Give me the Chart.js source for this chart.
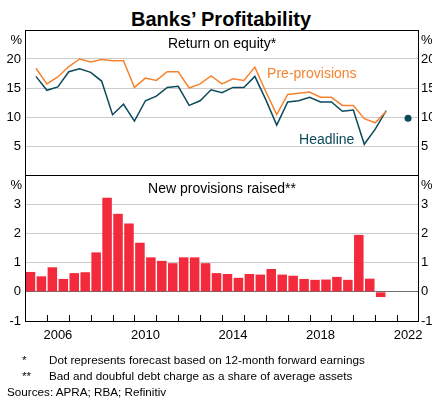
<!DOCTYPE html>
<html>
<head>
<meta charset="utf-8">
<script src="https://cdn.jsdelivr.net/npm/chart.js@4.4.1/dist/chart.umd.min.js"></script>
<style>
  body { margin: 0; background: #fff; }
  #wrap { position: relative; width: 432px; height: 399px; overflow: hidden;
          font-family: "Liberation Sans", Arial, sans-serif; color: #000; }
  canvas { position: absolute; left: 0; top: 0; }
  .title { position: absolute; left: 5px; width: 432px; top: 8.5px; text-align: center;
           font-weight: bold; font-size: 20px; line-height: 20px; }
  .note { position: absolute; font-size: 11.7px; line-height: 11.7px; white-space: nowrap; }
</style>
</head>
<body>
<div id="wrap">
  <div class="title">Banks’ Profitability</div>
  <canvas id="roe" width="432" height="399"></canvas>
  <canvas id="prov" width="432" height="399"></canvas>
  <div class="note" style="left:22px;top:354px">*</div>
  <div class="note" style="left:49px;top:354px">Dot represents forecast based on 12-month forward earnings</div>
  <div class="note" style="left:22px;top:370px">**</div>
  <div class="note" style="left:49px;top:370px">Bad and doubful debt charge as a share of average assets</div>
  <div class="note" style="left:7px;top:386px">Sources: APRA; RBA; Refinitiv</div>
</div>
<script>
// half-year periods
const periods = [
  '2005 H1','2005 H2','2006 H1','2006 H2','2007 H1','2007 H2','2008 H1','2008 H2',
  '2009 H1','2009 H2','2010 H1','2010 H2','2011 H1','2011 H2','2012 H1','2012 H2',
  '2013 H1','2013 H2','2014 H1','2014 H2','2015 H1','2015 H2','2016 H1','2016 H2',
  '2017 H1','2017 H2','2018 H1','2018 H2','2019 H1','2019 H2','2020 H1','2020 H2',
  '2021 H1'
];

// return on equity, per cent
const headline = [
  17.0, 14.6, 15.2, 17.8, 18.3, 17.7, 16.2, 10.4, 12.2, 9.3, 12.8, 13.6,
  15.1, 15.3, 12.0, 12.8, 14.7, 14.2, 15.1, 15.1, 17.0, 13.0, 8.6, 12.6,
  12.8, 13.4, 12.6, 12.6, 11.0, 11.2, 5.3, 7.9, 11.1
];
const preProvisions = [
  18.4, 15.7, 16.9, 18.7, 20.0, 19.5, 19.9, 19.7, 19.7, 15.1, 16.7, 16.3,
  17.8, 17.8, 15.0, 15.7, 17.1, 15.7, 16.6, 16.3, 18.6, 14.4, 10.4, 13.9,
  14.1, 14.3, 13.4, 13.4, 12.0, 12.0, 9.7, 9.0, 11.0
];
const forecastPeriod = '2022 H1';
const forecastRoe = 9.8;

// new provisions raised, per cent of average assets
const provisions = [
  0.68, 0.53, 0.84, 0.44, 0.64, 0.67, 1.35, 3.22, 2.67, 2.34, 1.68, 1.18,
  1.06, 0.98, 1.18, 1.18, 0.98, 0.64, 0.61, 0.48, 0.61, 0.59, 0.78, 0.59,
  0.55, 0.44, 0.41, 0.42, 0.51, 0.41, 1.95, 0.45, -0.18
];

const yearTicks = [2006, 2010, 2014, 2018, 2022];

const ORANGE = '#F7832F';
const TEAL = '#0B4A5A';
const RED = '#F32A3B';
const GRID = '#CBCBCB';
const FONT = '"Liberation Sans", Arial, sans-serif';

Chart.defaults.font.family = FONT;
Chart.defaults.color = '#000';

function periodStart(p) {
  const [yr, h] = p.split(' ');
  return Number(yr) + (h === 'H2' ? 0.5 : 0);
}
// lines are plotted at period end, bars across the period
const endOf = p => periodStart(p) + 0.5;
const midOf = p => periodStart(p) + 0.25;

function xScale(show) {
  const s = {
    type: 'linear', min: 2005, max: 2023, offset: false, display: show,
    grid: { display: false, drawTicks: false },
    border: { display: false },
    ticks: {
      stepSize: 1, autoSkip: false, maxRotation: 0, padding: 7, labelOffset: 11,
      font: { size: 13 },
      callback: v => yearTicks.includes(v) ? String(v) : ''
    }
  };
  if (show) s.afterFit = sc => { sc.height = 24; };
  return s;
}

function yScale(pos, min, max, step, gridColor) {
  return {
    type: 'linear', position: pos, min: min, max: max,
    afterFit: s => { s.width = pos === 'left' ? 25 : 13; },
    border: { display: false },
    grid: { display: pos === 'left', drawTicks: false, lineWidth: 1, color: gridColor },
    ticks: {
      stepSize: step, padding: pos === 'left' ? 4 : 2, font: { size: 13 },
      callback: v => (v === max || (min === 0 && v === 0)) ? '' : String(v)
    }
  };
}

function drawFrame(chart) {
  const { ctx, chartArea: a } = chart;
  ctx.save();
  ctx.strokeStyle = '#000';
  ctx.lineWidth = 1;
  ctx.strokeRect(Math.round(a.left) + 0.5, Math.round(a.top) + 0.5,
                 Math.round(a.right - a.left) - 1, Math.round(a.bottom - a.top));
  ctx.restore();
}

function drawPanelText(chart, title) {
  const { ctx, chartArea: a } = chart;
  ctx.save();
  ctx.fillStyle = '#000';
  ctx.textBaseline = 'alphabetic';
  ctx.font = '14px ' + FONT;
  ctx.textAlign = 'center';
  ctx.fillText(title, (a.left + a.right) / 2, a.top + 18.3);
  ctx.font = '13px ' + FONT;
  ctx.textAlign = 'right';
  ctx.fillText('%', a.left - 3, a.top + 13.5);
  ctx.textAlign = 'left';
  ctx.fillText('%', a.right + 2, a.top + 13.5);
  ctx.restore();
}

const roeDecor = {
  id: 'roeDecor',
  afterDatasetsDraw(chart) {
    const { ctx, scales: { x, y } } = chart;
    drawFrame(chart);
    drawPanelText(chart, 'Return on equity*');
    ctx.save();
    ctx.font = '14px ' + FONT;
    ctx.textBaseline = 'alphabetic';
    ctx.textAlign = 'left';
    ctx.fillStyle = ORANGE;
    ctx.fillText('Pre-provisions', x.getPixelForValue(2016.06), y.getPixelForValue(16.67));
    ctx.fillStyle = TEAL;
    ctx.fillText('Headline', x.getPixelForValue(2017.52), y.getPixelForValue(5.36));
    ctx.restore();
  }
};

const provDecor = {
  id: 'provDecor',
  afterDatasetsDraw(chart) {
    const { ctx, chartArea: a, scales: { x } } = chart;
    drawFrame(chart);
    drawPanelText(chart, 'New provisions raised**');
    // year tick marks along the bottom, inside the frame
    ctx.save();
    ctx.strokeStyle = '#000';
    ctx.lineWidth = 1;
    ctx.beginPath();
    x.ticks.forEach(t => {
      if (t.value <= x.min || t.value >= x.max) return;
      const px = Math.round(x.getPixelForValue(t.value)) + 0.5;
      ctx.moveTo(px, a.bottom);
      ctx.lineTo(px, a.bottom - 6);
    });
    ctx.stroke();
    ctx.restore();
  }
};

new Chart(document.getElementById('roe'), {
  type: 'line',
  data: {
    datasets: [
      {
        label: 'Pre-provisions',
        data: periods.map((p, i) => ({ x: endOf(p), y: preProvisions[i] })),
        borderColor: ORANGE, borderWidth: 1.5, pointRadius: 0, tension: 0
      },
      {
        label: 'Headline',
        data: periods.map((p, i) => ({ x: endOf(p), y: headline[i] })),
        borderColor: TEAL, borderWidth: 1.5, pointRadius: 0, tension: 0
      },
      {
        label: 'Forecast',
        data: [{ x: endOf(forecastPeriod), y: forecastRoe }],
        showLine: false, pointRadius: 3.5, pointBackgroundColor: TEAL,
        pointBorderWidth: 0, borderColor: TEAL
      }
    ]
  },
  options: {
    responsive: false, animation: false,
    layout: { padding: { left: 0, right: 0, top: 30, bottom: 224 } },
    plugins: { legend: { display: false }, tooltip: { enabled: false } },
    scales: {
      x: xScale(false),
      y: yScale('left', 0, 25, 5, c => (c.tick.value === 0 || c.tick.value === 25) ? 'rgba(0,0,0,0)' : GRID),
      yR: yScale('right', 0, 25, 5, GRID)
    }
  },
  plugins: [roeDecor]
});

new Chart(document.getElementById('prov'), {
  type: 'bar',
  data: {
    datasets: [{
      label: 'New provisions raised',
      data: periods.map((p, i) => ({ x: midOf(p), y: provisions[i] })),
      backgroundColor: RED, borderWidth: 0,
      categoryPercentage: 1, barPercentage: 0.87
    }]
  },
  options: {
    responsive: false, animation: false,
    layout: { padding: { left: 0, right: 0, top: 175, bottom: 54 } },
    plugins: { legend: { display: false }, tooltip: { enabled: false } },
    scales: {
      x: xScale(true),
      y: yScale('left', -1, 4, 1, c => {
        const v = c.tick.value;
        if (v === -1 || v === 4) return 'rgba(0,0,0,0)';
        return v === 0 ? '#6E6E6E' : GRID;
      }),
      yR: yScale('right', -1, 4, 1, GRID)
    }
  },
  plugins: [provDecor]
});
</script>
</body>
</html>
